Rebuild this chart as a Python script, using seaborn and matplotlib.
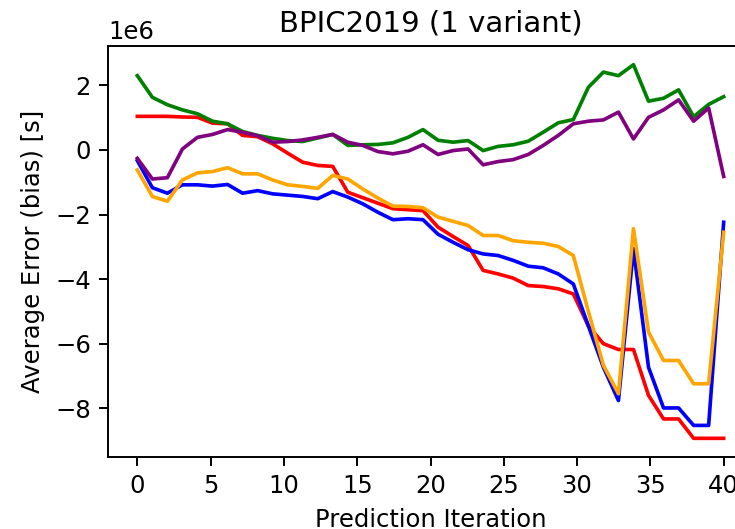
import matplotlib
matplotlib.use("Agg")
import matplotlib.pyplot as plt
import seaborn as sns
import pandas as pd

iteration = [0.0, 1.026, 2.051, 3.077, 4.103, 5.128, 6.154, 7.179, 8.205, 9.231,
             10.256, 11.282, 12.308, 13.333, 14.359, 15.385, 16.41, 17.436, 18.462, 19.487,
             20.513, 21.538, 22.564, 23.59, 24.615, 25.641, 26.667, 27.692, 28.718, 29.744,
             30.769, 31.795, 32.821, 33.846, 34.872, 35.897, 36.923, 37.949, 38.974, 40.0]

# values in units of 1e6 seconds
red = [1.04, 1.04, 1.04, 1.02, 1.01, 0.83, 0.81, 0.45, 0.41, 0.19,
       -0.10, -0.38, -0.48, -0.51, -1.31, -1.48, -1.65, -1.82, -1.85, -1.88,
       -2.39, -2.68, -2.96, -3.73, -3.84, -3.97, -4.20, -4.23, -4.30, -4.46,
       -5.45, -6.00, -6.18, -6.18, -7.60, -8.33, -8.33, -8.93, -8.93, -8.93]
blue = [-0.33, -1.17, -1.34, -1.08, -1.08, -1.12, -1.07, -1.34, -1.26, -1.36,
        -1.40, -1.44, -1.51, -1.29, -1.46, -1.67, -1.93, -2.16, -2.13, -2.16,
        -2.61, -2.86, -3.09, -3.22, -3.27, -3.42, -3.60, -3.65, -3.84, -4.15,
        -5.45, -6.73, -7.76, -3.06, -6.73, -7.99, -7.99, -8.53, -8.53, -2.24]
green = [2.30, 1.63, 1.40, 1.24, 1.12, 0.89, 0.81, 0.57, 0.45, 0.36,
         0.29, 0.26, 0.37, 0.48, 0.14, 0.16, 0.17, 0.22, 0.39, 0.63,
         0.30, 0.24, 0.29, -0.02, 0.11, 0.16, 0.27, 0.55, 0.84, 0.94,
         1.94, 2.41, 2.30, 2.64, 1.51, 1.60, 1.86, 1.03, 1.41, 1.65]
orange = [-0.62, -1.44, -1.59, -0.93, -0.71, -0.67, -0.55, -0.74, -0.74, -0.93,
          -1.08, -1.13, -1.19, -0.79, -0.90, -1.21, -1.49, -1.74, -1.75, -1.79,
          -2.08, -2.21, -2.34, -2.65, -2.65, -2.81, -2.86, -2.89, -2.99, -3.27,
          -5.00, -6.67, -7.55, -2.44, -5.64, -6.52, -6.52, -7.24, -7.24, -2.55]
purple = [-0.26, -0.90, -0.86, 0.03, 0.39, 0.48, 0.63, 0.55, 0.44, 0.24,
          0.26, 0.31, 0.39, 0.48, 0.24, 0.14, -0.05, -0.12, -0.04, 0.16,
          -0.14, -0.02, 0.03, -0.46, -0.36, -0.30, -0.14, 0.14, 0.45, 0.81,
          0.89, 0.93, 1.17, 0.34, 1.01, 1.24, 1.55, 0.89, 1.30, -0.82]

series = [("red", red), ("blue", blue), ("green", green), ("orange", orange), ("purple", purple)]

dpi = 175
fig = plt.figure(figsize=(735 / dpi, 529 / dpi), dpi=dpi)
ax = fig.add_axes([108 / 735, 1 - 457 / 529, (753 - 108) / 735, (457 - 46) / 529])

for color, vals in series:
    df = pd.DataFrame({"x": iteration, "y": [v * 1e6 for v in vals]})
    sns.lineplot(data=df, x="x", y="y", color=color, ax=ax, estimator=None)

ax.set_title("BPIC2019 (1 variant)")
ax.set_xlabel("Prediction Iteration")
ax.set_ylabel("Average Error (bias) [s]")
ax.set_xticks([0, 5, 10, 15, 20, 25, 30, 35, 40])

fig.savefig("out.png", dpi=dpi)
